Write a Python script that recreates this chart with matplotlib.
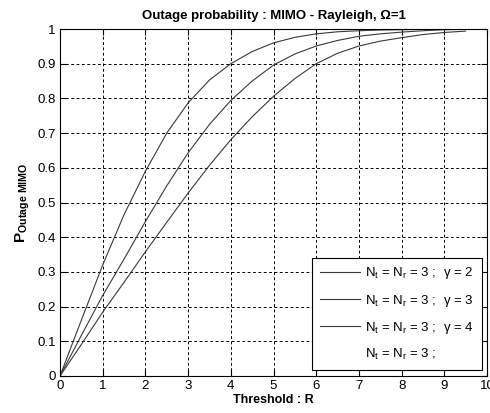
import matplotlib
matplotlib.use("Agg")
import matplotlib.pyplot as plt
import numpy as np

plt.rcParams['font.family'] = ['Liberation Sans', 'DejaVu Sans']
plt.rcParams['mathtext.fontset'] = 'custom'
plt.rcParams['mathtext.rm'] = 'Liberation Sans'
plt.rcParams['mathtext.bf'] = 'Liberation Sans:bold'
plt.rcParams['mathtext.it'] = 'Liberation Sans:italic'

R = [0, 0.5, 1, 1.5, 2, 2.5, 3, 3.5, 4, 4.5, 5, 5.5, 6, 6.5, 7, 7.5, 8, 8.5, 9, 9.5]
p_gamma2 = [0, 0.161, 0.32, 0.465, 0.590, 0.700, 0.787, 0.853, 0.900, 0.935, 0.960,
            0.976, 0.986, 0.992, 0.995, 0.997, 0.998, 0.999, 1.0, 1.0]
p_gamma3 = [0, 0.117, 0.232, 0.337, 0.445, 0.548, 0.643, 0.725, 0.794, 0.850, 0.896,
            0.928, 0.951, 0.967, 0.979, 0.986, 0.991, 0.995, 0.998, 0.999]
p_gamma4 = [0, 0.091, 0.184, 0.270, 0.358, 0.443, 0.527, 0.607, 0.681, 0.747, 0.806,
            0.857, 0.900, 0.930, 0.951, 0.965, 0.975, 0.984, 0.990, 0.994]
labels = [r'N$_{\mathregular{t}}$ = N$_{\mathregular{r}}$ = 3 ;  γ = 2',
          r'N$_{\mathregular{t}}$ = N$_{\mathregular{r}}$ = 3 ;  γ = 3',
          r'N$_{\mathregular{t}}$ = N$_{\mathregular{r}}$ = 3 ;  γ = 4',
          r'N$_{\mathregular{t}}$ = N$_{\mathregular{r}}$ = 3 ;']
xticks = list(range(0, 11))
yticks = [0, 0.1, 0.2, 0.3, 0.4, 0.5, 0.6, 0.7, 0.8, 0.9, 1]
yticklabels = ['0', '0.1', '0.2', '0.3', '0.4', '0.5', '0.6', '0.7', '0.8', '0.9', '1']

fig = plt.figure(figsize=(4.90, 4.13), dpi=100)
ax = fig.add_axes([60/490, (413-376)/413, 427/490, 347/413])

lc = '#3a3a3a'
ax.plot(R, p_gamma2, color=lc, lw=0.8, label=labels[0])
ax.plot(R, p_gamma3, color=lc, lw=0.8, label=labels[1])
ax.plot(R, p_gamma4, color=lc, lw=0.8, label=labels[2])
ax.plot([], [], ls='none', label=labels[3])

ax.set_xlim(0, 10)
ax.set_ylim(0, 1)
ax.set_xticks(xticks)
ax.set_xticklabels([str(t) for t in xticks])
ax.set_yticks(yticks)
ax.set_yticklabels(yticklabels)
ax.grid(True, color='black', lw=0.7, linestyle=(0, (3, 2.5)))
ax.tick_params(direction='in', length=4, width=0.8, top=True, right=True,
               labelsize=9.5, pad=3, colors='black')
for s in ax.spines.values():
    s.set_linewidth(0.8)
    s.set_color('black')

ax.set_title('Outage probability : MIMO - Rayleigh, Ω=1', fontsize=9.5,
             fontweight='bold', pad=7)
ax.set_xlabel('Threshold : R', fontsize=9, fontweight='bold', labelpad=1)
ax.set_ylabel(r'$\mathbf{P_{Outage\ MIMO}}$', fontsize=11, labelpad=4)

leg = ax.legend(loc='lower right', bbox_to_anchor=(0.988, 0.017), borderaxespad=0,
                fontsize=9.5, frameon=True, fancybox=False, edgecolor='black',
                framealpha=1, handlelength=3.0, handletextpad=0.4,
                labelspacing=0.85, borderpad=0.6)
leg.get_frame().set_linewidth(0.8)

fig.savefig('out.png', dpi=100, facecolor='white')
